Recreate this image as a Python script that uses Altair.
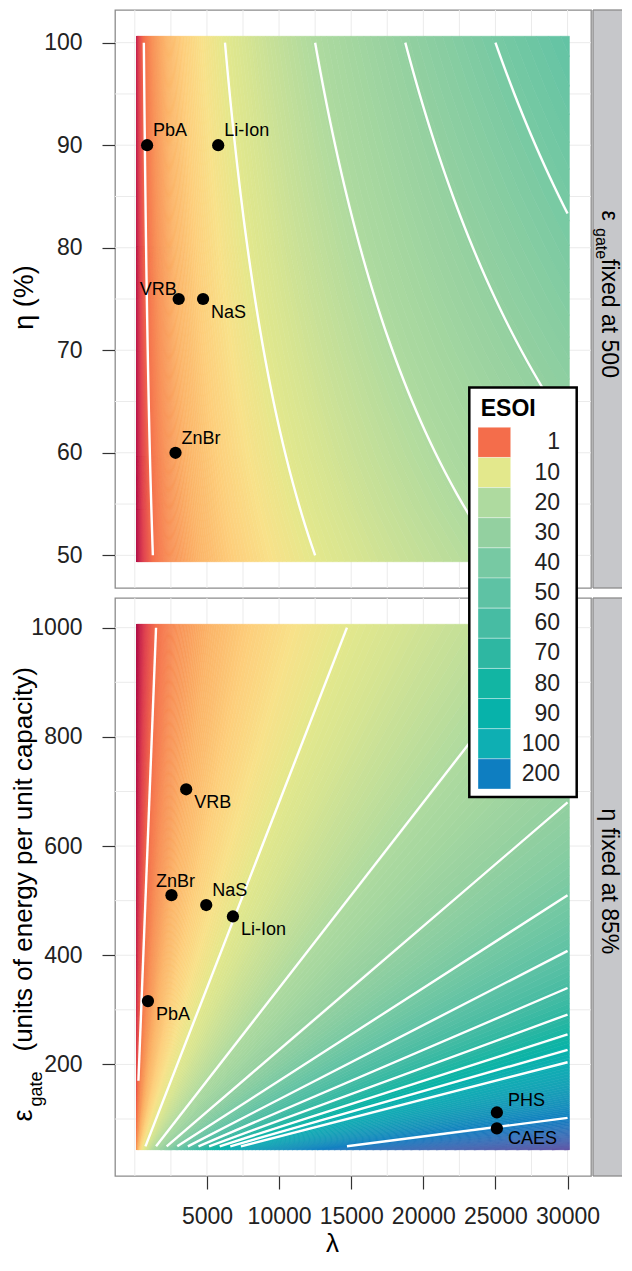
import altair as alt
import numpy as np
import pandas as pd

FONT = "Liberation Sans"

# ---------------- ESOI model:  ESOI = D * eta * lambda / eps_gate ----------------
D = 0.8                 # depth of discharge
EPS_FIXED = 500         # eps_gate fixed in the upper panel
ETA_FIXED = 85          # eta (%) fixed in the lower panel
lam_limits, lam_step = [250, 30000], 250
eta_limits, eta_step = [50, 100], 1.25
eps_limits, eps_step = [50, 1000], 12.5

contour_levels = [1, 10, 20, 30, 40, 50, 60, 70, 80, 90, 100, 200]
legend_breaks = [1, 10, 20, 30, 40, 50, 60, 70, 80, 90, 100, 200]

esoi_stops = [0, 0.2, 0.5, 1, 2, 3.5, 5.5, 7.5, 10, 15, 20, 30, 40, 50, 60,
              70, 80, 90, 100, 200, 480]
esoi_colors = ["#9E0142", "#C21F4E", "#E04451", "#F46D4B", "#F89257", "#FBB468",
               "#FDCF7C", "#F8E189", "#E3E88C", "#C7E097", "#AEDA9F", "#93D0A0",
               "#77C9A3", "#5EC2A4", "#47BCA3", "#2EB7A2", "#12B5A3", "#07B2AA",
               "#0EAFB3", "#0E7EC1", "#5E4FA2"]

# ---------------- storage technologies ----------------
top_tech = ["PbA", "Li-Ion", "VRB", "NaS", "ZnBr"]
top_lambda = [850, 5780, 3040, 4730, 2820]
top_eta = [90, 90, 75, 75, 60]
top_side = ["ne", "ne", "nw", "se", "ne"]

bot_tech = ["VRB", "ZnBr", "NaS", "Li-Ion", "PbA", "PHS", "CAES"]
bot_lambda = [3560, 2540, 4950, 6800, 910, 25100, 25100]
bot_eps = [704, 510, 492, 471, 316, 112, 83]
bot_side = ["se", "n", "ne", "se", "se", "ne2", "se2"]

label_sides = {
    "ne": dict(align="left", dx=6, dy=-14),
    "se": dict(align="left", dx=8, dy=14),
    "nw": dict(align="right", dx=-2, dy=-9),
    "n": dict(align="center", dx=4, dy=-13),
    "ne2": dict(align="left", dx=11, dy=-11),
    "se2": dict(align="left", dx=11, dy=11),
}

# ---------------- axes ----------------
x_ticks = [5000, 10000, 15000, 20000, 25000, 30000]
x_grid = list(range(0, 30001, 2500))
eta_ticks = [50, 60, 70, 80, 90, 100]
eta_grid = list(range(50, 101, 5))
eps_ticks = [200, 400, 600, 800, 1000]
eps_grid = list(range(100, 1001, 100))

W, H = 476, 578
SX = W + 2            # strip left edge
SW = 29               # visible strip width
ST = SX + 9           # strip text baseline

L0, L1 = lam_limits[0] - lam_step / 2, lam_limits[1] + lam_step / 2
H0, H1 = eta_limits[0] - eta_step / 2, eta_limits[1] + eta_step / 2
E0, E1 = eps_limits[0] - eps_step / 2, eps_limits[1] + eps_step / 2


def expand(a, b):
    p = 0.05 * (b - a)
    return [a - p, b + p]


x_dom = expand(L0, L1)
eta_dom = expand(H0, H1)
eps_dom = expand(E0, E1)

k_top = D / 100 / EPS_FIXED       # ESOI = k_top * eta * lam
c_bot = D * ETA_FIXED / 100       # ESOI = c_bot * lam / eps

band_edges = 0.009 * 1.03 ** np.arange(0, 500)
band_edges = band_edges[band_edges < 560]

# upper raster: bands between ESOI iso-lines (hyperbolae in lambda-eta)
rows = []
eta_samples = np.linspace(H0, H1, 11)
for i in range(len(band_edges) - 1):
    a, b = band_edges[i], band_edges[i + 1]
    lo = max(H0, a / (k_top * L1))
    hi = min(H1, b / (k_top * L0))
    if lo >= hi:
        continue
    pts = {lo, hi}
    pts.update(float(g) for g in eta_samples if lo < g < hi)
    for kk in (a / (k_top * L0), b / (k_top * L1)):
        if lo < kk < hi:
            pts.add(kk)
    val = float(np.sqrt(a * b))
    for e in sorted(pts):
        rows.append(dict(band=i, esoi=round(val, 4), eta=round(e, 4),
                         lam_lo=round(float(np.clip(a / (k_top * e), L0, L1)), 2),
                         lam_hi=round(float(np.clip(b / (k_top * e), L0, L1)), 2)))
top_heat = pd.DataFrame(rows)

# lower raster: wedges between ESOI iso-lines (rays in lambda-eps)
rows = []
for i in range(len(band_edges) - 1):
    a, b = band_edges[i], band_edges[i + 1]
    lo = max(L0, a * E0 / c_bot)
    hi = min(L1, b * E1 / c_bot)
    if lo >= hi:
        continue
    pts = {lo, hi}
    for kk in (b * E0 / c_bot, a * E1 / c_bot):
        if lo < kk < hi:
            pts.add(kk)
    val = float(np.sqrt(a * b))
    for l in sorted(pts):
        rows.append(dict(band=i, esoi=round(val, 4), lam=round(l, 3),
                         eps_lo=round(float(np.clip(c_bot * l / b, E0, E1)), 3),
                         eps_hi=round(float(np.clip(c_bot * l / a, E0, E1)), 3)))
bot_heat = pd.DataFrame(rows)

# contour lines
rows = []
for lev in contour_levels:
    etas = np.linspace(eta_limits[0], eta_limits[1], 51)
    lams = lev / (k_top * etas)
    keep = (lams >= lam_limits[0]) & (lams <= lam_limits[1])
    pts = list(zip(lams[keep], etas[keep]))
    for lb in lam_limits:
        e = lev / (k_top * lb)
        if eta_limits[0] < e < eta_limits[1]:
            pts.append((lb, e))
    for lam, eta in pts:
        rows.append(dict(level=lev, lam=float(lam), eta=float(eta)))
top_cont = pd.DataFrame(rows)

rows = []
for lev in contour_levels:
    ls = max(lam_limits[0], eps_limits[0] * lev / c_bot)
    le = min(lam_limits[1], eps_limits[1] * lev / c_bot)
    if ls < le:
        for lam in (ls, le):
            rows.append(dict(level=lev, lam=lam, eps=c_bot * lam / lev))
bot_cont = pd.DataFrame(rows)

top_pts = pd.DataFrame(dict(tech=top_tech, lam=top_lambda, eta=top_eta, side=top_side))
bot_pts = pd.DataFrame(dict(tech=bot_tech, lam=bot_lambda, eps=bot_eps, side=bot_side))
legend_df = pd.DataFrame(dict(lab=[str(b) for b in legend_breaks], v=legend_breaks))
dummy = pd.DataFrame({"d": [0]})

# ---------------- scales ----------------
cscale = alt.Scale(type="linear", domain=esoi_stops, range=esoi_colors,
                   clamp=True, interpolate="lab")


def mk_axis(values, pad):
    return alt.Axis(values=values, format="d", title=None, grid=False, domain=False,
                    ticks=True, tickSize=13, tickColor="#333333", tickWidth=1.2,
                    labelFont=FONT, labelFontSize=23, labelColor="#222222",
                    labelPadding=pad, labelFlush=False, labelOverlap=False)


x_axis_bottom = mk_axis(x_ticks, 16)
y_axis_top = mk_axis(eta_ticks, 20)
y_axis_bot = mk_axis(eps_ticks, 20)


def X(field, axis):
    return alt.X(field, type="quantitative", axis=axis,
                 scale=alt.Scale(domain=x_dom, nice=False, zero=False))


def Yt(field):
    return alt.Y(field, type="quantitative", axis=y_axis_top,
                 scale=alt.Scale(domain=eta_dom, nice=False, zero=False))


def Yb(field):
    return alt.Y(field, type="quantitative", axis=y_axis_bot,
                 scale=alt.Scale(domain=eps_dom, nice=False, zero=False))


def txt(text, x, y, size, angle=0, align="left", weight="normal", baseline="alphabetic"):
    kw = dict(text=text, fontSize=size, font=FONT, align=align, baseline=baseline,
              color="black", fontWeight=weight)
    if angle:
        kw["angle"] = angle
    return alt.Chart(dummy).mark_text(**kw).encode(x=alt.value(x), y=alt.value(y))


def strip():
    fill = alt.Chart(dummy).mark_rect(fill="#C6C7CA").encode(
        x=alt.value(SX), x2=alt.value(SX + SW), y=alt.value(0), y2=alt.value(H))
    top_b = alt.Chart(dummy).mark_rule(color="#8C8C8C", strokeWidth=1.3).encode(
        x=alt.value(SX), x2=alt.value(SX + SW), y=alt.value(0))
    bot_b = alt.Chart(dummy).mark_rule(color="#8C8C8C", strokeWidth=1.3).encode(
        x=alt.value(SX), x2=alt.value(SX + SW), y=alt.value(H))
    left_b = alt.Chart(dummy).mark_rule(color="#8C8C8C", strokeWidth=1.3).encode(
        x=alt.value(SX), y=alt.value(0), y2=alt.value(H))
    return [fill, top_b, bot_b, left_b]


def labels(df, xfield, yenc, axis):
    out = []
    for side, opts in label_sides.items():
        sub = df[df.side == side]
        if len(sub) == 0:
            continue
        out.append(alt.Chart(sub).mark_text(
            font=FONT, fontSize=18, color="black", baseline="middle", **opts
        ).encode(x=X(xfield, axis), y=yenc, text="tech:N"))
    return out


# ---------------- upper panel ----------------
t_gx = alt.Chart(pd.DataFrame({"g": x_grid})).mark_rule(color="#EBEBEB", strokeWidth=1).encode(
    x=X("g", None))
t_gy = alt.Chart(pd.DataFrame({"g": eta_grid})).mark_rule(color="#EBEBEB", strokeWidth=1).encode(
    y=Yt("g"))
t_heat = alt.Chart(top_heat).mark_area(orient="horizontal", strokeWidth=0.6).encode(
    y=Yt("eta"), x=X("lam_lo", None), x2="lam_hi:Q",
    color=alt.Color("esoi:Q", scale=cscale, legend=None),
    stroke=alt.Stroke("esoi:Q", scale=cscale, legend=None),
    detail="band:N")
t_cont = alt.Chart(top_cont).mark_line(color="white", strokeWidth=2.4).encode(
    x=X("lam", None), y=Yt("eta"), detail="level:N")
t_pts = alt.Chart(top_pts).mark_circle(size=150, color="black", opacity=1).encode(
    x=X("lam", None), y=Yt("eta"))

top = alt.layer(
    t_gx, t_gy, t_heat, t_cont, t_pts,
    *labels(top_pts, "lam", Yt("eta"), None),
    *strip(),
    txt("ε", ST, H / 2 - 88.5, 23, angle=90),
    txt("gate", ST - 6.5, H / 2 - 71, 16, angle=90),
    txt("fixed at 500", ST, H / 2 - 40, 23, angle=90),
    txt("η (%)", -82, H / 2 - 1.5, 27, angle=270, align="center"),
).properties(width=W, height=H)

# ---------------- lower panel ----------------
b_gx = alt.Chart(pd.DataFrame({"g": x_grid})).mark_rule(color="#EBEBEB", strokeWidth=1).encode(
    x=X("g", x_axis_bottom))
b_gy = alt.Chart(pd.DataFrame({"g": eps_grid})).mark_rule(color="#EBEBEB", strokeWidth=1).encode(
    y=Yb("g"))
b_heat = alt.Chart(bot_heat).mark_area(orient="vertical", strokeWidth=0.6).encode(
    x=X("lam", x_axis_bottom), y=Yb("eps_lo"), y2="eps_hi:Q",
    color=alt.Color("esoi:Q", scale=cscale, legend=None),
    stroke=alt.Stroke("esoi:Q", scale=cscale, legend=None),
    detail="band:N")
b_cont = alt.Chart(bot_cont).mark_line(color="white", strokeWidth=2.4).encode(
    x=X("lam", x_axis_bottom), y=Yb("eps"), detail="level:N")
b_pts = alt.Chart(bot_pts).mark_circle(size=150, color="black", opacity=1).encode(
    x=X("lam", x_axis_bottom), y=Yb("eps"))

bottom_main = alt.layer(
    b_gx, b_gy, b_heat, b_cont, b_pts,
    *labels(bot_pts, "lam", Yb("eps"), x_axis_bottom),
    *strip(),
    txt("η fixed at 85%", ST, H / 2 - 78.5, 23, angle=90),
    txt("ε", -83.5, H / 2 + 234.5, 27, angle=270),
    txt("gate", -73.5, H / 2 + 219.5, 18, angle=270),
    txt("(units of energy per unit capacity)", -83.5, H / 2 + 164.5, 26, angle=270),
    txt("λ", 217.5, H + 76, 26, align="center"),
)

# legend, drawn from the lower panel so that it sits above both panels
lscale = alt.Scale(type="band", domain=[str(b) for b in legend_breaks],
                   range=[-170.7, 191], paddingInner=0, paddingOuter=0)
leg_box = alt.Chart(dummy).mark_rect(fill="white", stroke="black", strokeWidth=2.5).encode(
    x=alt.value(354.3), x2=alt.value(461.7), y=alt.value(-210.5), y2=alt.value(199))
leg_keys = alt.Chart(legend_df).mark_rect(stroke="white", strokeOpacity=0.45, strokeWidth=0.8).encode(
    x=alt.value(363), x2=alt.value(395.7),
    y=alt.Y("lab:N", scale=lscale, axis=None, sort=None),
    color=alt.Color("v:Q", scale=cscale, legend=None))
leg_labels = alt.Chart(legend_df).mark_text(
    font=FONT, fontSize=23, align="right", baseline="middle", color="#222222").encode(
    x=alt.value(445), y=alt.Y("lab:N", scale=lscale, axis=None, sort=None), text="lab:N")
leg_title = txt("ESOI", 365.7, -182, 23, weight="bold")
legend = alt.layer(leg_box, leg_keys, leg_labels, leg_title)

bottom = alt.layer(bottom_main, legend).resolve_scale(y="independent").properties(
    width=W, height=H)

chart = alt.vconcat(top, bottom, spacing=10, bounds="flush").properties(
    padding=0, background="white"
).configure_view(stroke="#8C8C8C", strokeWidth=1.3, fill="white")

chart.save("out.html", embed_options={"renderer": "svg", "actions": False})
